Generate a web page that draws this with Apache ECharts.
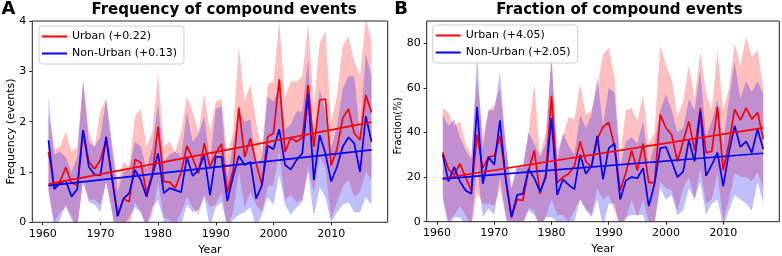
<!DOCTYPE html>
<html><head><meta charset="utf-8">
<script src="https://cdn.jsdelivr.net/npm/echarts@6/dist/echarts.min.js"></script>
<style>html,body{margin:0;padding:0;background:#fff}#c{width:782px;height:256px}</style>
</head><body><div id="c"></div>
<script>
const years = [1961,1962,1963,1964,1965,1966,1967,1968,1969,1970,1971,1972,1973,1974,1975,1976,1977,1978,1979,1980,1981,1982,1983,1984,1985,1986,1987,1988,1989,1990,1991,1992,1993,1994,1995,1996,1997,1998,1999,2000,2001,2002,2003,2004,2005,2006,2007,2008,2009,2010,2011,2012,2013,2014,2015,2016,2017];
const xTicks = [1960,1970,1980,1990,2000,2010];
const freqTicks = [0,1,2,3,4];
const fracTicks = [0,20,40,60,80];

// Panel A: frequency (events)
const freqUrban = [1.40,0.72,0.81,1.09,0.78,0.74,1.83,1.20,1.06,1.24,1.64,0.88,0.13,0.47,0.41,1.25,1.19,0.58,0.96,1.90,0.81,0.80,0.68,1.00,1.52,1.27,0.97,1.57,1.10,1.37,1.56,0.59,1.04,2.28,1.30,1.67,1.17,0.75,1.70,1.77,2.84,1.40,1.68,1.60,1.68,2.73,1.50,2.43,2.45,1.13,1.45,2.07,2.25,1.77,1.64,2.53,2.18];
const freqNonUrban = [1.63,0.66,0.78,0.83,0.51,0.66,1.83,1.10,0.95,0.93,1.70,0.90,0.12,0.47,0.58,1.04,0.84,0.51,0.92,1.37,0.58,0.68,0.64,0.60,1.30,0.92,1.04,1.33,0.54,1.30,1.30,0.42,0.91,1.32,1.14,1.20,0.47,0.74,1.52,1.45,1.85,1.14,1.05,1.24,1.37,2.56,0.84,1.73,1.37,0.81,1.10,1.50,1.69,1.57,1.00,2.11,1.60];
const freqUrbanHi = [2.15,1.45,1.50,1.80,1.40,1.50,2.85,1.80,1.50,2.20,2.45,1.60,0.80,1.20,1.10,2.10,2.25,1.50,1.80,2.95,1.50,1.60,1.40,1.80,2.50,2.20,1.80,2.55,1.80,2.40,2.45,1.30,1.80,3.50,2.40,2.75,2.00,1.40,2.75,2.80,4.00,2.45,2.80,2.80,2.90,3.95,2.30,3.55,3.80,2.00,2.50,3.50,3.70,3.20,2.90,4.05,3.60];
const freqUrbanLo = [0.60,0.00,0.20,0.30,0.10,-0.10,0.85,0.45,0.45,0.35,0.80,0.25,-0.50,-0.10,-0.10,0.40,0.20,-0.10,0.15,0.80,0.10,0.05,-0.05,0.20,0.50,0.30,0.15,0.55,0.30,0.35,0.60,-0.10,0.20,1.00,0.30,0.60,0.35,0.20,0.70,0.75,1.40,0.45,0.55,0.40,0.45,1.10,0.60,1.30,1.10,0.05,0.40,0.70,0.85,0.50,0.60,1.00,0.85];
const freqNonUrbanHi = [2.50,1.35,1.40,1.30,1.00,1.30,2.80,1.60,1.50,1.70,2.45,1.50,0.60,1.00,1.05,1.60,1.50,1.05,1.50,2.35,1.20,1.35,1.40,1.30,2.20,1.60,1.75,2.10,1.20,2.25,2.30,0.90,1.55,2.20,2.00,2.05,1.10,1.30,2.50,2.40,2.70,1.85,1.95,2.20,2.20,3.25,1.45,2.65,2.20,1.45,1.90,2.65,2.90,2.90,1.75,3.35,2.90];
const freqNonUrbanLo = [0.65,-0.10,0.05,0.35,0.05,-0.10,0.80,0.40,0.35,0.20,0.80,0.20,-0.40,-0.10,0.10,0.30,0.20,-0.10,0.30,0.45,0.00,0.00,-0.05,-0.05,0.35,0.20,0.25,0.50,-0.10,0.30,0.40,-0.10,0.05,0.15,0.20,0.30,-0.10,0.15,0.50,0.35,0.95,0.35,0.15,0.30,0.40,1.00,0.10,0.70,0.50,0.00,0.20,0.35,0.40,0.20,0.20,0.50,0.35];

// Panel B: fraction (%)
const fracUrban = [31,23.5,21,26,20,14,39,24,29,29.5,38.5,20,2,10,9.5,23,32,12.5,21,56.5,17.5,20,21.5,25,36,27,24.5,37,42.5,44.5,34,14,22,32,23,35,17.5,17.5,48,42,39,27,36,45,32,51,31,31.5,51.5,23,35,50.5,45.5,51,46,49,37];
const fracNonUrban = [30,18,24.5,18,14,12.5,51.5,17,29,25.5,45.5,19,2,12,12.5,23.5,19.5,13.5,20,46.5,12,19,16.5,14.5,30,21.5,25,38.5,19,33,35,10,18.5,20,19.5,24,7,17,33,33.5,27,20,22.5,36.5,27,49.5,20.5,25.5,31,16,31,43,33.5,36,31,41.5,32.5];
const fracUrbanHi = [51,49,43,45,35,30,65,38,50,52,60,35,15,25,25,40,62,30,40,75,32,38,47,46,62,48,50,60,75,78,65,30,50,51,45,57,35,40,79,70,64,47,54,70,55,76,58,50,77,50,60,80,70,83,74,77,60];
const fracUrbanLo = [12,0,3,7,3,-2,13,8,8,7,15,3,-10,-3,-3,6,5,-3,2,10,3,3,0,5,10,6,3,15,10,12,5,-2,1,10,2,10,0,-2,18,15,14,5,15,20,10,24,8,10,22,0,10,22,20,20,18,22,15];
const fracNonUrbanHi = [48,43,46,38,32,28,75,33,50,50,67,35,15,25,24,40,35,29,35,74,27,40,34,30,48,42,48,65,43,60,58,25,36,38,35,45,25,35,50,57,50,40,42,55,50,68,38,45,55,35,55,72,55,63,58,63,57];
const fracNonUrbanLo = [10,-3,2,2,-2,-3,25,2,6,3,20,2,-10,-3,0,5,3,-2,2,2,0,0,0,0,10,5,2,10,-2,8,8,-3,2,3,3,3,-5,0,15,10,12,3,5,15,10,18,3,8,10,-2,5,12,10,8,5,18,8];

// Linear trends (end points)
const trendYears = [1961, 2017];
const freqUrbanTrend = [0.76, 1.99];
const freqNonUrbanTrend = [0.73, 1.44];
const fracUrbanTrend = [19.5, 42.1];
const fracNonUrbanTrend = [19.2, 30.7];

const FONT = '"DejaVu Sans", sans-serif';
const RED = '#ff0000', BLUE = '#0000ff';
const RED_BAND = 'rgba(255,0,0,0.25)', BLUE_BAND = 'rgba(0,0,255,0.25)';

function pairs(xs, ys){ return xs.map((x,i)=>[x, ys[i]]); }

function band(idx, lo, hi, fill){
  const data = years.map((y,i)=>[y, lo[i], hi[i]]);
  return {
    type:'custom', xAxisIndex:idx, yAxisIndex:idx, clip:true, silent:true, z:1,
    data, encode:{x:0, y:[1,2]},
    renderItem(params, api){
      if (params.dataIndex !== 0) return null;
      const pts = [];
      for (let i=0;i<data.length;i++) pts.push(api.coord([data[i][0], data[i][2]]));
      for (let i=data.length-1;i>=0;i--) pts.push(api.coord([data[i][0], data[i][1]]));
      return {type:'polygon', shape:{points:pts}, style:{fill:fill, stroke:null}};
    }
  };
}
function line(idx, name, xs, ys, color, z){
  return {type:'line', name, xAxisIndex:idx, yAxisIndex:idx, data:pairs(xs, ys),
    showSymbol:false, symbol:'none', color, z:z,
    lineStyle:{color, width:1.7}, itemStyle:{color}, clip:true};
}
function xAx(idx){
  return {type:'value', gridIndex:idx, min:1958.2, max:2019.8,
    name:'Year', nameLocation:'middle', nameGap:20,
    nameTextStyle:{fontFamily:FONT, fontSize:11, color:'#000'},
    axisLine:{show:false}, splitLine:{show:false},
    axisTick:{show:true, length:3, customValues:xTicks, lineStyle:{color:'#222'}},
    axisLabel:{customValues:xTicks, formatter:(v)=>String(v), fontFamily:FONT, fontSize:11, color:'#000', margin:6}};
}
function yAx(idx, max, ticks){
  return {type:'value', gridIndex:idx, min:0, max:max,
    axisLine:{show:false}, splitLine:{show:false},
    axisTick:{show:true, length:3, customValues:ticks, lineStyle:{color:'#222'}},
    axisLabel:{customValues:ticks, formatter:(v)=>String(v), fontFamily:FONT, fontSize:11, color:'#000', margin:6}};
}
function legend(left, top, names){
  return {orient:'vertical', left, top, data:names, icon:'rect', itemWidth:25, itemHeight:2,
    itemGap:4, padding:[4,7,4,3], borderColor:'#cfcfcf', borderWidth:1, borderRadius:3,
    backgroundColor:'rgba(255,255,255,0.8)', selectedMode:false,
    textStyle:{fontFamily:FONT, fontSize:11, color:'#000', lineHeight:13}};
}
function txt(x, y, s, font, rot){
  return {type:'text', x, y, rotation:rot||0, silent:true,
    style:{text:s, font, fill:'#000', align:'center', verticalAlign:'middle', textAlign:'center', textVerticalAlign:'middle'}};
}

const option = {
  animation:false,
  backgroundColor:'#fff',
  grid:[
    {left:32.3, top:21, width:355.4, height:201.3, show:true, borderColor:'#222', borderWidth:1, backgroundColor:'transparent', containLabel:false, outerBoundsMode:'none'},
    {left:426.7, top:21, width:352.6, height:200.7, show:true, borderColor:'#222', borderWidth:1, backgroundColor:'transparent', containLabel:false, outerBoundsMode:'none'}
  ],
  xAxis:[xAx(0), xAx(1)],
  yAxis:[yAx(0, 4, freqTicks), yAx(1, 90, fracTicks)],
  legend:[
    legend(39, 26, ['Urban (+0.22)','Non-Urban (+0.13)']),
    legend(432.7, 25, ['Urban (+4.05)','Non-Urban (+2.05)'])
  ],
  graphic:[
    txt(8.5, 9, 'A', 'bold 18px ' + FONT),
    txt(401, 9, 'B', 'bold 18px ' + FONT),
    txt(224, 10, 'Frequency of compound events', 'bold 15px ' + FONT),
    txt(619.5, 10, 'Fraction of compound events', 'bold 15px ' + FONT),
    txt(11, 131.5, 'Frequency (events)', '11px ' + FONT, Math.PI/2),
    txt(398, 126, 'Fraction(%)', '10px ' + FONT, Math.PI/2)
  ],
  series:[
    band(0, freqUrbanLo, freqUrbanHi, RED_BAND),
    band(0, freqNonUrbanLo, freqNonUrbanHi, BLUE_BAND),
    line(0, 'Urban (+0.22)', years, freqUrban, RED, 3),
    line(0, 'Non-Urban (+0.13)', years, freqNonUrban, BLUE, 4),
    line(0, 'Urban trend A', trendYears, freqUrbanTrend, RED, 5),
    line(0, 'Non-Urban trend A', trendYears, freqNonUrbanTrend, BLUE, 5),
    band(1, fracUrbanLo, fracUrbanHi, RED_BAND),
    band(1, fracNonUrbanLo, fracNonUrbanHi, BLUE_BAND),
    line(1, 'Urban (+4.05)', years, fracUrban, RED, 3),
    line(1, 'Non-Urban (+2.05)', years, fracNonUrban, BLUE, 4),
    line(1, 'Urban trend B', trendYears, fracUrbanTrend, RED, 5),
    line(1, 'Non-Urban trend B', trendYears, fracNonUrbanTrend, BLUE, 5)
  ]
};
const chart = echarts.init(document.getElementById('c'), null, {renderer:'canvas'});
chart.setOption(option);
</script></body></html>
